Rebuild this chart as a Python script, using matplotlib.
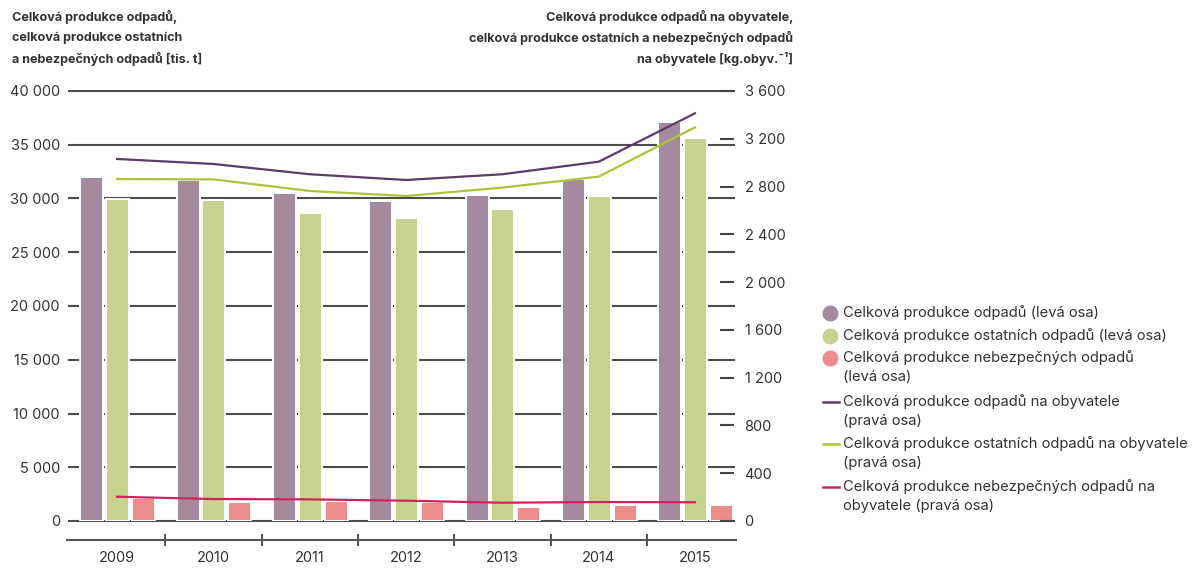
import matplotlib
matplotlib.use("Agg")
import matplotlib.pyplot as plt
from matplotlib.lines import Line2D
from matplotlib.ticker import FuncFormatter
import numpy as np

plt.rcParams['font.family'] = ['Inter', 'DejaVu Sans']

# --- data -------------------------------------------------------------
years = ["2009", "2010", "2011", "2012", "2013", "2014", "2015"]

# thousand tonnes (left axis)
total_waste = [31970, 31720, 30480, 29800, 30330, 31840, 37150]
other_waste = [29950, 29860, 28620, 28210, 29020, 30230, 35630]
hazardous_waste = [2100, 1800, 1860, 1740, 1330, 1520, 1490]

# kg per inhabitant (right axis)
total_per_cap = [3031, 2989, 2903, 2855, 2903, 3008, 3413]
other_per_cap = [2863, 2860, 2763, 2721, 2791, 2883, 3296]
hazardous_per_cap = [203, 184, 181, 170, 153, 159, 157]

left_ticks = [0, 5000, 10000, 15000, 20000, 25000, 30000, 35000, 40000]
right_ticks = [0, 400, 800, 1200, 1600, 2000, 2400, 2800, 3200, 3600]

legend_labels = [
    ["Celková produkce odpadů (levá osa)"],
    ["Celková produkce ostatních odpadů (levá osa)"],
    ["Celková produkce nebezpečných odpadů", "(levá osa)"],
    ["Celková produkce odpadů na obyvatele", "(pravá osa)"],
    ["Celková produkce ostatních odpadů na obyvatele", "(pravá osa)"],
    ["Celková produkce nebezpečných odpadů na", "obyvatele (pravá osa)"],
]

# --- style ------------------------------------------------------------
C_PURPLE = "#a38a9f"
C_GREEN = "#c6d38f"
C_PINK = "#ec8c8c"
L_PURPLE = "#5a3d68"
L_GREEN = "#a9c53c"
L_RED = "#d0215f"
GRID = "#4d4d4d"
TXT = "#333333"

W, H = 1193, 570
fig = plt.figure(figsize=(W / 100, H / 100), dpi=100)

ax_left, ax_right_px, ax_bottom, ax_top = 69, 733.5, 521, 91
ax = fig.add_axes([ax_left / W, (H - ax_bottom) / H,
                   (ax_right_px - ax_left) / W, (ax_bottom - ax_top) / H])

x = np.arange(len(years))
bw = 0.24

# horizontal grid lines, behind bars
for v in left_ticks:
    ax.axhline(v, color=GRID, lw=1.5, zorder=0.5, clip_on=False)

bar_kw = dict(width=bw, edgecolor="white", linewidth=1.4, zorder=2)
ax.bar(x - 0.262, total_waste, color=C_PURPLE, **bar_kw)
ax.bar(x + 0.005, other_waste, color=C_GREEN, **bar_kw)
ax.bar(x + 0.275, hazardous_waste, color=C_PINK, **bar_kw)

ax.set_xlim(-0.5, 6.4)
ax.set_ylim(0, 40000)
ax.set_yticks(left_ticks)
ax.yaxis.set_major_formatter(FuncFormatter(lambda v, p: f"{int(v):,}".replace(",", " ")))
ax.tick_params(axis="y", length=0, pad=6.5, labelsize=10.5, labelcolor=TXT)

# separate category axis below the plot with separators between years
for s in ["top", "right", "left"]:
    ax.spines[s].set_visible(False)
ax.spines["bottom"].set_position(("outward", 13.7))
ax.spines["bottom"].set_color("#555555")
ax.spines["bottom"].set_linewidth(1.5)
ax.spines["bottom"].set_bounds(-0.52, 6.43)
ax.set_xticks(x)
ax.set_xticklabels(years)
ax.set_xticks(np.arange(0.5, 6.0, 1.0), minor=True)
ax.tick_params(axis="x", which="major", length=0, pad=8, labelsize=10.5, labelcolor=TXT)
ax.tick_params(axis="x", which="minor", length=8, width=1.3, direction="inout", color="#444444")

# right axis with per-capita lines
ax2 = ax.twinx()
ax2.set_ylim(0, 3600)
ax2.set_yticks(right_ticks)
ax2.yaxis.set_major_formatter(FuncFormatter(lambda v, p: f"{int(v):,}".replace(",", " ")))
ax2.tick_params(axis="y", direction="in", length=10, width=1.5, color="#444444",
                pad=8, labelsize=10.5, labelcolor=TXT)
for s in ax2.spines.values():
    s.set_visible(False)

ax2.plot(x, total_per_cap, color=L_PURPLE, lw=1.6, zorder=3)
ax2.plot(x, other_per_cap, color=L_GREEN, lw=1.6, zorder=3)
ax2.plot(x, hazardous_per_cap, color=L_RED, lw=1.6, zorder=3)

# axis titles
title_kw = dict(fontsize=9.1, fontweight="bold", color=TXT)
left_title = ["Celková produkce odpadů,", "celková produkce ostatních",
              "a nebezpečných odpadů [tis. t]"]
right_title = ["Celková produkce odpadů na obyvatele,",
               "celková produkce ostatních a nebezpečných odpadů",
               "na obyvatele [kg.obyv.⁻¹]"]
for i, t in enumerate(left_title):
    fig.text(12 / W, 1 - (17 + 21 * i) / H, t, ha="left", va="center", **title_kw)
for i, t in enumerate(right_title):
    fig.text(793 / W, 1 - (17 + 21 * i) / H, t, ha="right", va="center", **title_kw)

# legend drawn by hand
legend_rows = [313, 336, 358, 402, 444, 487]
markers = [("o", C_PURPLE), ("o", C_GREEN), ("o", C_PINK),
           ("-", L_PURPLE), ("-", L_GREEN), ("-", L_RED)]
for (kind, col), y0, lines in zip(markers, legend_rows, legend_labels):
    yf = 1 - y0 / H
    if kind == "o":
        fig.add_artist(Line2D([830 / W], [yf], marker="o", markersize=10.5,
                              color=col, linestyle="none"))
    else:
        fig.add_artist(Line2D([823 / W, 839 / W], [yf, yf], color=col, lw=1.8))
    for j, t in enumerate(lines):
        fig.text(843 / W, 1 - (y0 + 19 * j) / H, t, ha="left", va="center",
                 fontsize=10.6, color=TXT)

fig.savefig("out.png", dpi=100)
